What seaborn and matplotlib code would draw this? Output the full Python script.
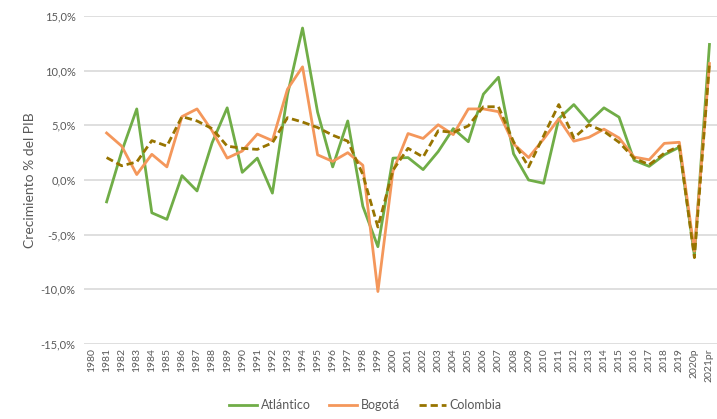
import numpy as np
import pandas as pd
import matplotlib
matplotlib.use("Agg")
import matplotlib.pyplot as plt
import seaborn as sns

# years on the category axis
years = [str(y) for y in range(1980, 2020)] + ["2020p", "2021pr"]

# GDP growth (%), 1980 has no value
atlantico = [np.nan, -2.0, 2.6, 6.5, -3.0, -3.6, 0.4, -1.0, 3.4, 6.6,
             0.7, 2.0, -1.2, 7.8, 13.9, 6.2, 1.2, 5.4, -2.4, -6.1,
             2.0, 2.05, 0.95, 2.6, 4.7, 3.5, 7.85, 9.4, 2.4, 0.0,
             -0.3, 5.6, 6.9, 5.3, 6.6, 5.75, 1.8, 1.25, 2.3, 3.0,
             -6.9, 12.4]
bogota = [np.nan, 4.3, 3.1, 0.5, 2.35, 1.2, 5.8, 6.5, 4.5, 2.0,
          2.65, 4.2, 3.6, 8.3, 10.35, 2.3, 1.7, 2.5, 1.35, -10.2,
          0.8, 4.25, 3.8, 5.05, 4.15, 6.5, 6.5, 6.25, 3.3, 2.05,
          3.75, 5.6, 3.55, 3.9, 4.65, 3.85, 2.1, 1.85, 3.35, 3.45,
          -6.5, 10.65]
colombia = [np.nan, 2.05, 1.3, 1.65, 3.6, 3.1, 5.8, 5.4, 4.7, 3.1,
            2.9, 2.8, 3.4, 5.7, 5.3, 4.8, 4.1, 3.55, 0.5, -4.3,
            0.9, 2.9, 2.1, 4.5, 4.35, 4.95, 6.7, 6.7, 3.5, 1.2,
            4.05, 6.9, 3.85, 5.05, 4.45, 3.45, 2.0, 1.4, 2.45, 3.1,
            -7.1, 10.65]

series = {"Atlántico": atlantico, "Bogotá": bogota, "Colombia": colombia}
colors = {"Atlántico": "#70AD47", "Bogotá": "#F4975B", "Colombia": "#977400"}
dashes = {"Atlántico": "", "Bogotá": "", "Colombia": (2.6, 1.4)}

df = pd.DataFrame({
    "pos": np.tile(np.arange(len(years)), len(series)),
    "region": np.repeat(list(series.keys()), len(years)),
    "valor": np.concatenate([series[k] for k in series]),
}).dropna()

plt.rcParams["font.family"] = ["Lato", "DejaVu Sans"]
gray = "#595959"

fig = plt.figure(figsize=(7.17, 4.19), dpi=100)
ax = fig.add_axes([84 / 717, 1 - 344 / 419, 633 / 717, 328 / 419])

sns.lineplot(data=df, x="pos", y="valor", hue="region", style="region",
             palette=colors, dashes=dashes, linewidth=2.0, ax=ax,
             hue_order=list(series.keys()), style_order=list(series.keys()))

ax.set_xlim(-0.5, len(years) - 0.5)
ax.set_ylim(-15, 15)
yt = np.arange(-15, 16, 5)
ax.set_yticks(yt)
ax.set_yticklabels([f"{v:.1f}%".replace(".", ",") for v in yt],
                   fontsize=8, color=gray)
ax.set_xticks(range(len(years)))
ax.set_xticklabels(years, rotation=90, fontsize=7.5, color=gray)
ax.tick_params(axis="y", length=0, pad=6)
ax.tick_params(axis="x", length=0, pad=3)
ax.grid(axis="y", color="#D9D9D9", linewidth=1.2)
ax.set_axisbelow(True)
for s in ax.spines.values():
    s.set_visible(False)

ax.set_xlabel("")
ax.set_ylabel("Crecimiento % del PIB", fontsize=10, color=gray, labelpad=3)

leg = ax.legend(loc="center", bbox_to_anchor=(0.445, -0.186), ncol=3,
                frameon=False, fontsize=9, handlelength=2.2, columnspacing=1.5,
                handletextpad=0.3)
for t in leg.get_texts():
    t.set_color(gray)

fig.savefig("out.png", dpi=100)
